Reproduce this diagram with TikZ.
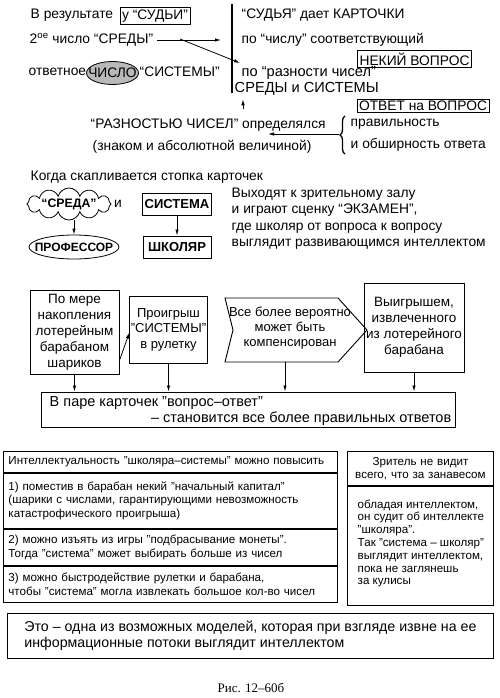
\documentclass[tikz,border=0pt]{standalone}
\usepackage{fontspec}
\setmainfont{Liberation Sans}
\newfontfamily\capfont{Liberation Serif}
\usetikzlibrary{positioning,shapes.geometric,shapes.symbols,decorations.pathreplacing,arrows.meta}

\newcommand{\fnTop}{\fontsize{13.8}{16}\selectfont}
\newcommand{\fnWide}{\fontsize{14.6}{16}\selectfont}
\newcommand{\fnMid}{\fontsize{13.8}{16.5}\selectfont}
\newcommand{\fnFlow}{\fontsize{13.5}{16}\selectfont}
\newcommand{\fnTab}{\fontsize{11.6}{13.5}\selectfont}
\newcommand{\fnBot}{\fontsize{14.2}{16}\selectfont}

\tikzset{
  framed/.style={draw, line width=0.9pt, inner sep=2pt},
  tabrow/.style={framed, minimum width=334, text width=324, inner xsep=5pt, inner ysep=0pt, align=left, font=\fnTab},
  boldbox/.style={framed, font=\fontsize{13}{15}\selectfont\bfseries, minimum width=68, minimum height=22},
}

\begin{document}
\begin{tikzpicture}[x=1pt, y=-1pt, >={Latex[length=6pt,width=3.4pt]}, line width=0.8pt, font=\fnTop]
\useasboundingbox (0,0) rectangle (500,698);

% judge gives the cards
\node[anchor=west] (rez) at (27,15) {В результате};
\node[framed] (sudi) at (155,16) {у “СУДЬИ”};
\node[anchor=west] (karta) at (238,15) {“СУДЬЯ” дает КАРТОЧКИ};
\coordinate (barT) at (232,4);
\coordinate (barB) at (232,93);
\draw[line width=2.6pt] (barT) -- (barB);

\node[anchor=west] (sreda2) at (26,40) {2\textsuperscript{ое} число “СРЕДЫ”};
\coordinate (sredaTip) at (221,40);
\coordinate (crossA) at (180,39);
\coordinate (crossB) at (240,63);
\draw[->] (sreda2.east) -- (sredaTip);
\draw[->] (crossA) -- (crossB);
\node[anchor=west] (chislu) at (238,40) {по “числу” соответствующий};
\node[framed] (vopr) at (414.5,59) {НЕКИЙ ВОПРОС};

\node[anchor=west] (otv) at (25,72) {ответное};
\coordinate (chisloC) at (112.5,73);
\filldraw[fill=gray!55] (chisloC) ellipse [x radius=26, y radius=11.5];
\node[inner sep=0pt] (chislo) at (chisloC) {ЧИСЛО};
\node[anchor=west] (sist) at (136,72) {“СИСТЕМЫ”};
\node[anchor=west, font=\fnWide] (razn) at (238,73) {по “разности чисел”};
\node[anchor=west, font=\fnWide] (sredsys) at (231,89) {СРЕДЫ и СИСТЕМЫ};
\node[framed] (otvet) at (423,106) {ОТВЕТ на ВОПРОС};
\coordinate (upTail) at (243,109);
\draw[->] (upTail) -- (upTail |- sredsys.south);

\node[anchor=west] (raznost) at (87,125) {“РАЗНОСТЬЮ ЧИСЕЛ” определялся};
\node[anchor=west] (znak) at (89,147) {(знаком и абсолютной величиной)};
\coordinate (brTop) at (345,116);
\coordinate (brBot) at (345,154);
\draw[decorate, decoration={brace, amplitude=5pt}, line width=1.3pt] (brBot) -- (brTop);
\coordinate (brTip) at (339,134);
\coordinate (brEnd) at (268,134);
\draw[->] (brTip) -- (brEnd);
\node[anchor=west] (prav) at (347,124) {правильность};
\node[anchor=west] (obsh) at (347,145) {и обширность ответа};

% cards pile up
\node[anchor=west] (stopka) at (27,177) {Когда скапливается стопка карточек};
\node[cloud, draw, cloud puffs=12, cloud ignores aspect, minimum width=84, minimum height=32] (sredaC) at (69,204) {};
\node[font=\fontsize{12.3}{15}\selectfont\bfseries, inner sep=0pt] (sreda) at (sredaC) {“СРЕДА”};
\node (i) at (118,204) {и};
\node[boldbox] (sistema) at (177,204) {СИСТЕМА};
\node[font=\fontsize{12}{15}\selectfont\bfseries, inner sep=0pt, minimum width=90, minimum height=24] (prof) at (74,247) {ПРОФЕССОР};
\draw (prof.center) ellipse [x radius=45, y radius=12];
\node[boldbox] (shkol) at (177,247) {ШКОЛЯР};
\draw[->] (prof.north |- sredaC.south) -- (prof.north);
\draw[->] (sistema) -- (shkol);
\node[anchor=north west, align=left, font=\fnMid] (zal) at (228,184) {Выходят к зрительному залу\\и играют сценку “ЭКЗАМЕН”,\\где школяр от вопроса к вопросу\\выглядит развивающимся интеллектом};

% flow
\node[framed, minimum width=89, minimum height=84, align=center, font=\fnFlow] (nakop) at (74.5,332) {По мере\\накопления\\лотерейным\\барабаном\\шариков};
\node[framed, inner xsep=1pt, minimum width=73, minimum height=67, align=center, font=\fontsize{13}{15.5}\selectfont] (proig) at (168.5,329.5) {Проигрыш\\"СИСТЕМЫ"\\в рулетку};
\node[align=center, font=\fontsize{13}{15}\selectfont] (komp) at (290,328) {Все более вероятно\\может быть\\компенсирован};
\draw[line width=0.9pt] (225,298) -- (338,298) -- (367,330) -- (338,362) -- (225,362) -- (233,330) -- cycle;
\node[framed, minimum width=92, minimum height=89, align=center, font=\fnFlow] (vyigr) at (414,327.5) {Выигрышем,\\извлеченного\\из лотерейного\\барабана};
\node[framed, minimum width=414, minimum height=35] (para) at (248,409.5) {};
\node[anchor=west, font=\fontsize{14.5}{16}\selectfont] (para1) at (46,403) {В паре карточек "вопрос–ответ"};
\node[anchor=east, font=\fontsize{14.5}{16}\selectfont] (para2) at (455,419) {– становится все более правильных ответов};
\coordinate (kompB) at (285,362);
\draw[->] (nakop.south) -- (nakop.south |- para.north);
\draw[->] (proig.south) -- (proig.south |- para.north);
\draw[->] (kompB) -- (kompB |- para.north);
\draw[->] (vyigr.south) -- (vyigr.south |- para.north);
\draw[->] ([yshift=14pt]nakop.south east) -- ([yshift=-37pt]proig.north west);

% tables
\node[tabrow, anchor=north west, minimum height=21] (intel) at (3,451) {Интеллектуальность "школяра–системы" можно повысить};
\node[tabrow, minimum height=55, below=0pt of intel] (sp1) {1) поместив в барабан некий "начальный капитал"\\(шарики с числами, гарантирующими невозможность\\катастрофического проигрыша)};
\node[tabrow, minimum height=36, below=0pt of sp1] (sp2) {2) можно изъять из игры "подбрасывание монеты".\\Тогда "система" может выбирать больше из чисел};
\node[tabrow, minimum height=36, below=0pt of sp2] (sp3) {3) можно быстродействие рулетки и барабана,\\чтобы "система" могла извлекать большое кол-во чисел};

\node[framed, anchor=north west, minimum width=146, minimum height=34, text width=142, inner xsep=2pt, inner ysep=0pt, align=center, font=\fontsize{11.6}{13}\selectfont] (zrit) at (347,451) {Зритель не видит\\всего, что за занавесом};
\node[framed, below=0pt of zrit, minimum width=146, minimum height=119] (zritB) {};
\node[anchor=north west, align=left, font=\fontsize{11.6}{12.8}\selectfont] (zritT) at ([xshift=7pt, yshift=-10pt]zritB.north west) {обладая интеллектом,\\он судит об интеллекте\\"школяра".\\Так "система – школяр"\\выглядит интеллектом,\\пока не заглянешь\\за кулисы};

\node[framed, anchor=north west, minimum width=486, minimum height=45, align=left, font=\fnBot] (model) at (7,613) {Это – одна из возможных моделей, которая при взгляде извне на ее\\информационные потоки выглядит интеллектом};

\node[font=\capfont\fontsize{13}{15}\selectfont] (ris) at (251,688) {Рис. 12–60б};
\end{tikzpicture}
\end{document}
